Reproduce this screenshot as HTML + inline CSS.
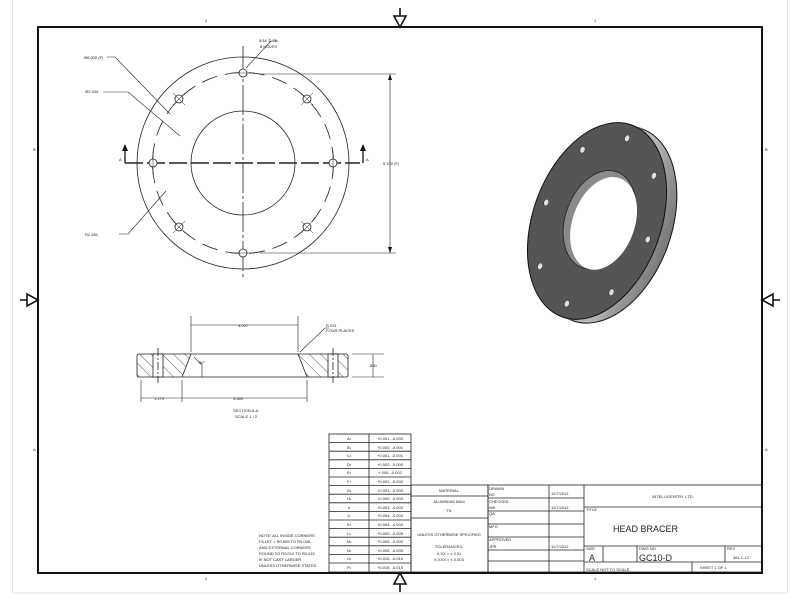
<!DOCTYPE html>
<html><head><meta charset="utf-8"><style>
html,body{margin:0;padding:0;background:#fff;}
svg{display:block;}
text{font-family:"Liberation Sans",sans-serif;fill:#222;}
</style></head><body>
<svg width="800" height="600" viewBox="0 0 800 600" xmlns="http://www.w3.org/2000/svg">
<defs>
<pattern id="h" width="8" height="8" patternUnits="userSpaceOnUse" patternTransform="rotate(-45)">
<line x1="0" y1="0" x2="0" y2="8" stroke="#333" stroke-width="0.8"/></pattern>
<linearGradient id="side" x1="0" y1="0" x2="1" y2="0"><stop offset="0" stop-color="#888"/><stop offset="0.6" stop-color="#bbb"/><stop offset="1" stop-color="#777"/></linearGradient>
</defs>
<rect x="12.5" y="-1" width="775" height="594" fill="none" stroke="#e6e6e6" stroke-width="1"/>
<rect x="38" y="27" width="724" height="546" fill="none" stroke="#111" stroke-width="2"/>
<g font-size="4">
<text x="205" y="22">2</text><text x="594" y="22">1</text>
<text x="205" y="580">2</text><text x="594" y="580">1</text>
<text x="33" y="151">B</text><text x="33" y="451">A</text>
<text x="765" y="151">B</text><text x="765" y="451">A</text>
</g>
<g stroke="#111" stroke-width="1.6" fill="#fff">
<line x1="400" y1="8" x2="400" y2="27"/><polygon points="394,16 406,16 400,27"/>
<line x1="400" y1="573" x2="400" y2="592"/><polygon points="394,584 406,584 400,573"/>
<line x1="20" y1="300" x2="38" y2="300"/><polygon points="27,294 27,306 38,300"/>
<line x1="762" y1="300" x2="780" y2="300"/><polygon points="773,294 773,306 762,300"/>
</g>
<g stroke="#222" fill="none" stroke-width="0.8">
<circle cx="243" cy="163" r="106"/>
<circle cx="243" cy="163" r="52"/>
<circle cx="243" cy="163" r="90.5" stroke-dasharray="16,8"/>
<line x1="243" y1="46" x2="243" y2="280" stroke-dasharray="30,3,3,3"/>
<line x1="125" y1="163" x2="360" y2="163" stroke-width="1.4" stroke-dasharray="18,4"/>
<line x1="125" y1="163" x2="125" y2="150" stroke-width="1.4"/><line x1="363" y1="163" x2="363" y2="150" stroke-width="1.4"/>
<g fill="#fff">
<circle cx="243" cy="73" r="4"/><circle cx="243" cy="253" r="4"/>
<circle cx="153" cy="163" r="4"/><circle cx="333" cy="163" r="4"/>
<circle cx="179" cy="99" r="4"/><circle cx="307" cy="99" r="4"/>
<circle cx="179" cy="227" r="4"/><circle cx="307" cy="227" r="4"/>
</g>
<g stroke-width="0.5">
<path d="M173,93l12,12M185,93l-12,12M301,93l12,12M313,93l-12,12M173,221l12,12M185,221l-12,12M301,221l12,12M313,221l-12,12"/>
<path d="M231,73h24M231,253h24M153,151v24M333,151v24"/>
</g>
<line x1="260" y1="74" x2="396" y2="74" stroke-width="0.6"/>
<line x1="260" y1="253" x2="396" y2="253" stroke-width="0.6"/>
<line x1="390" y1="74" x2="390" y2="253" stroke-width="0.6"/>
<path d="M107,57h8l55,57M103,92h25l52,44M119,234h9l38,-43M278,41h-7l-25,27" stroke-width="0.6"/>
</g>
<g fill="#111"><polygon points="122,151 128,151 125,144"/><polygon points="360,151 366,151 363,144"/>
<polygon points="388,80 392,80 390,74"/><polygon points="388,247 392,247 390,253"/></g>
<g font-size="4">
<text x="119" y="161">A</text><text x="366" y="161">A</text>
<text x="84" y="59">Ø8.000 (F)</text><text x="85" y="93">Ø2.944</text><text x="85" y="236">R2.550</text>
<text x="259" y="42">5/16 ∓.75</text><text x="260" y="48">8 HOLES</text>
<text x="383" y="165">5.100 (F)</text>
</g>
<g stroke="#222" stroke-width="0.8" fill="none">
<path d="M139,354H191L182,377H139Q137,377 137,375V356Q137,354 139,354Z" fill="url(#h)"/>
<path d="M298,354H346Q348,354 348,356V375Q348,377 346,377H307Z" fill="url(#h)"/>
<line x1="191" y1="354" x2="298" y2="354"/><line x1="182" y1="377" x2="307" y2="377"/>
<rect x="153" y="354" width="10" height="23" fill="#fff"/><rect x="328" y="354" width="10" height="23" fill="#fff"/>
<line x1="158" y1="348" x2="158" y2="383" stroke-dasharray="8,2,2,2"/><line x1="333" y1="348" x2="333" y2="383" stroke-dasharray="8,2,2,2"/>
<g stroke-width="0.6">
<line x1="191" y1="316" x2="191" y2="352"/><line x1="298" y1="316" x2="298" y2="352"/>
<line x1="191" y1="325" x2="298" y2="325"/>
<line x1="141" y1="380" x2="141" y2="402"/><line x1="182" y1="380" x2="182" y2="402"/><line x1="307" y1="380" x2="307" y2="402"/>
<line x1="141" y1="398" x2="307" y2="398"/>
<line x1="352" y1="354" x2="384" y2="354"/><line x1="352" y1="377" x2="384" y2="377"/>
<line x1="373" y1="354" x2="373" y2="377"/>
<path d="M300,352l25,-24h4M194,357l8,8v12"/>
</g></g>
<g font-size="4">
<text x="238" y="327">3.007</text><text x="233" y="400">3.540</text><text x="154" y="400">1.170</text>
<text x="369" y="367">.830</text><text x="199" y="364">55°</text>
<text x="326" y="327">R.031</text><text x="326" y="332">FOUR PLACES</text>
<text x="233" y="412">SECTION A-A</text><text x="235" y="418">SCALE 1 / 2</text>
</g>
<!-- 3D view -->
<g transform="rotate(20 597 221)">
<ellipse cx="608" cy="221" rx="64" ry="102" fill="url(#side)" stroke="#111" stroke-width="1"/>
<rect x="597" y="119" width="11" height="204" fill="url(#side)"/>
<ellipse cx="597" cy="221" rx="64" ry="102" fill="#555" stroke="#111" stroke-width="1"/>
<ellipse cx="599" cy="219" rx="34" ry="51" fill="#8a8a8a" stroke="#222" stroke-width="0.8"/>
<ellipse cx="604" cy="221" rx="31" ry="48" fill="#fff"/>
<g fill="#ddd" stroke="#222" stroke-width="0.5">
<ellipse cx="597" cy="133" rx="2.5" ry="3.5"/><ellipse cx="597" cy="309" rx="2.5" ry="3.5"/>
<ellipse cx="543" cy="221" rx="2.5" ry="3.5"/><ellipse cx="651" cy="221" rx="2.5" ry="3.5"/>
<ellipse cx="559" cy="159" rx="2.5" ry="3.5"/><ellipse cx="635" cy="159" rx="2.5" ry="3.5"/>
<ellipse cx="559" cy="283" rx="2.5" ry="3.5"/><ellipse cx="635" cy="283" rx="2.5" ry="3.5"/>
</g></g>
<g stroke="#222" stroke-width="0.8" fill="none">
<rect x="329" y="434" width="82" height="138"/>
<line x1="369" y1="434" x2="369" y2="572"/>
<path d="M329,442.6H411M329,451.2H411M329,459.8H411M329,468.4H411M329,477H411M329,485.6H411M329,494.2H411M329,502.8H411M329,511.4H411M329,520H411M329,528.6H411M329,537.2H411M329,545.8H411M329,554.4H411M329,563H411"/>
<rect x="411" y="485" width="77" height="87"/>
<line x1="411" y1="496" x2="488" y2="496"/><line x1="411" y1="518" x2="488" y2="518"/>
<rect x="488" y="485" width="274" height="87"/>
<line x1="549" y1="485" x2="549" y2="572"/><line x1="584" y1="485" x2="584" y2="572"/>
<path d="M488,498H584M488,511H584M488,524H584M488,537H584M488,550H584M488,561H584"/>
<line x1="584" y1="507" x2="762" y2="507"/><line x1="584" y1="546" x2="762" y2="546"/>
<line x1="584" y1="562" x2="762" y2="562"/>
<line x1="603" y1="546" x2="603" y2="562"/><line x1="637" y1="546" x2="637" y2="562"/><line x1="725" y1="546" x2="725" y2="562"/>
<line x1="692" y1="562" x2="692" y2="572"/>
</g>
<g font-size="4">
<g text-anchor="middle">
<text x="349" y="440">A•</text><text x="349" y="449">B•</text><text x="349" y="457">C•</text><text x="349" y="466">D•</text><text x="349" y="474">E•</text><text x="349" y="483">F•</text><text x="349" y="492">G•</text><text x="349" y="500">H•</text><text x="349" y="509">I•</text><text x="349" y="517">J•</text><text x="349" y="526">K•</text><text x="349" y="535">L•</text><text x="349" y="543">M•</text><text x="349" y="552">N•</text><text x="349" y="560">O•</text><text x="349" y="569">P•</text>
<text x="390" y="440">+0.001, -0.000</text><text x="390" y="449">+0.000, -0.001</text><text x="390" y="457">+0.001, -0.001</text><text x="390" y="466">+0.002, -0.000</text><text x="390" y="474">+.000, -0.002</text><text x="390" y="483">+0.002, -0.002</text><text x="390" y="492">+0.003, -0.000</text><text x="390" y="500">+0.000, -0.003</text><text x="390" y="509">+0.003, -0.003</text><text x="390" y="517">+0.004, -0.000</text><text x="390" y="526">+0.004, -0.004</text><text x="390" y="535">+0.000, -0.005</text><text x="390" y="543">+0.005, -0.000</text><text x="390" y="552">+0.005, -0.005</text><text x="390" y="560">+0.010, -0.010</text><text x="390" y="569">+0.015, -0.015</text>
<text x="449" y="492">MATERIAL</text><text x="449" y="503">ALUMINUM 6064</text><text x="449" y="512">T6</text>
<text x="449" y="536">UNLESS OTHERWISE SPECIFIED</text><text x="449" y="548">TOLERANCES:</text>
<text x="449" y="555">X.XX  =  ± 0.01</text><text x="449" y="561">X.XXX =  ± 0.003</text>
</g>
<text x="259" y="537">NOTE: ALL INSIDE CORNERS</text><text x="259" y="543">FILLET = R0.005 TO R0.008</text>
<text x="259" y="549">AND EXTERNAL CORNERS</text><text x="259" y="555">ROUND TO R0.010 TO R0.015</text>
<text x="259" y="561">IF NOT CAST LARGER</text><text x="259" y="567">UNLESS OTHERWISE STATED</text>
<text x="489" y="490">DRAWN</text><text x="489" y="496">NS</text><text x="489" y="503">CHECKED</text><text x="489" y="509">WK</text><text x="489" y="515">QA</text>
<text x="489" y="528">MFG</text><text x="489" y="541">APPROVED</text><text x="489" y="548">JPR</text>
<text x="551" y="495">11/7/2012</text><text x="551" y="509">11/7/2012</text><text x="551" y="548">11/7/2012</text>
<text x="673" y="498" text-anchor="middle">INTELLIGENTRY, LTD.</text>
<text x="586" y="511">TITLE</text><text x="586" y="550">SIZE</text><text x="639" y="550">DWG NO</text><text x="727" y="550">REV</text>
<text x="733" y="559">361 1-12</text><text x="700" y="569">SHEET 1 OF 1</text><text x="586" y="571">SCALE  NOT TO SCALE</text>
</g>
<text x="613" y="532" font-size="9">HEAD BRACER</text>
<text x="589" y="561" font-size="9">A</text>
<text x="639" y="561" font-size="9">GC10-D</text>
</svg>
</body></html>
